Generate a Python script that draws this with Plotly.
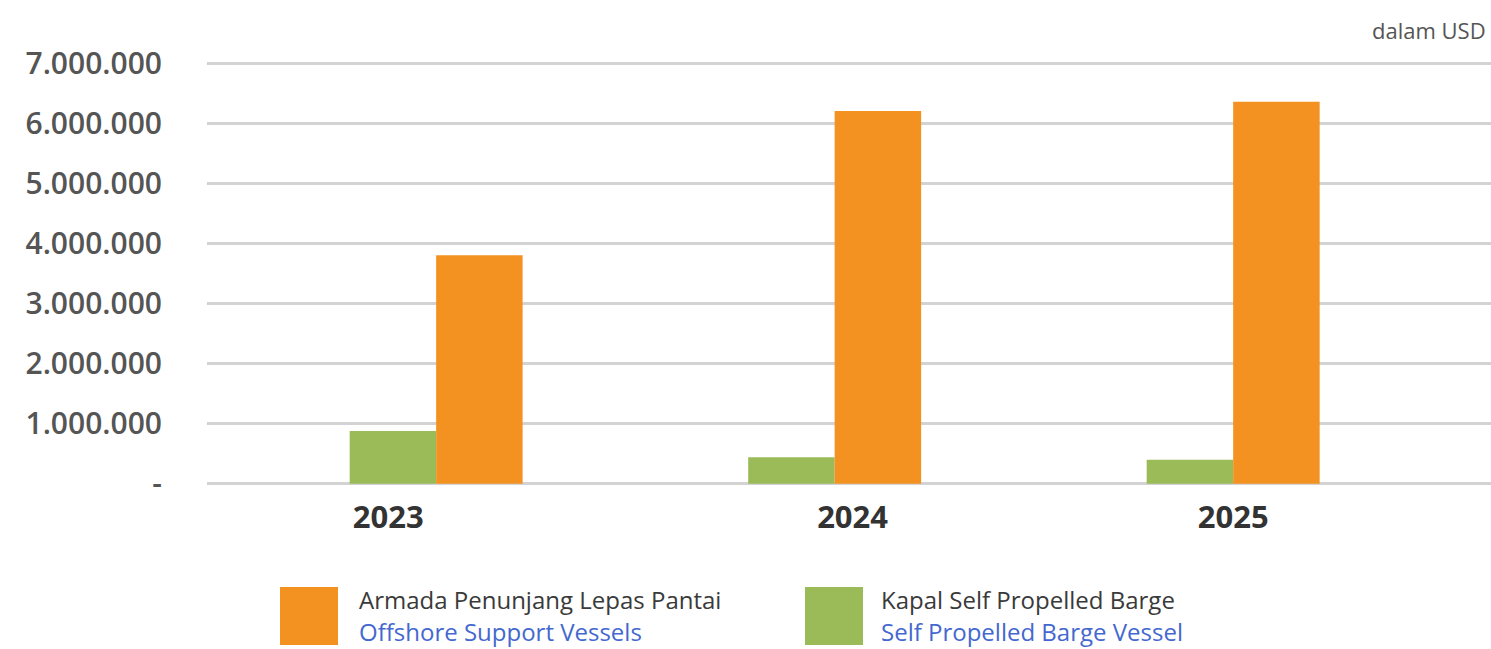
import plotly.graph_objects as go

# ---- data ----
years = ["2023", "2024", "2025"]
offshore_support_vessels = [3805000, 6205000, 6360000]
self_propelled_barge = [880000, 440000, 400000]
y_tick_values = [0, 1000000, 2000000, 3000000, 4000000, 5000000, 6000000, 7000000]
y_tick_labels = ["-", "1.000.000", "2.000.000", "3.000.000", "4.000.000",
                 "5.000.000", "6.000.000", "7.000.000"]

# ---- style ----
ORANGE = "#F39221"
GREEN = "#9BBB59"
GRID = "#D3D3D3"
TEXT = "#555555"
BLUE = "#4468D0"
W, H = 1491, 649
L, R, T, B = 207, 0, 62, 164
year_label_offsets = [-0.12, 0.045, 0.0]

x_idx = list(range(len(years)))

fig = go.Figure()
fig.add_trace(go.Bar(x=x_idx, y=self_propelled_barge, marker_color=GREEN,
                     marker_line_width=0, name="Self Propelled Barge Vessel",
                     showlegend=False))
fig.add_trace(go.Bar(x=x_idx, y=offshore_support_vessels, marker_color=ORANGE,
                     marker_line_width=0, name="Offshore Support Vessels",
                     showlegend=False))

pw, ph = W - L - R, H - T - B


def px_x(px):
    return (px - L) / pw


def px_y(py):
    return (H - B - py) / ph


shapes = []
annotations = []
legend_items = [
    (ORANGE, "Armada Penunjang Lepas Pantai", "Offshore Support Vessels", 280, 357),
    (GREEN, "Kapal Self Propelled Barge", "Self Propelled Barge Vessel", 805, 879),
]
for color, line1, line2, sx, tx in legend_items:
    shapes.append(dict(type="rect", xref="paper", yref="paper",
                       x0=px_x(sx), x1=px_x(sx + 58), y0=px_y(587), y1=px_y(645),
                       fillcolor=color, line_width=0))
    annotations.append(dict(xref="paper", yref="paper", x=px_x(tx), y=px_y(599),
                            text=line1, showarrow=False, xanchor="left", yanchor="middle",
                            font=dict(family="Open Sans", size=24, color="#3A3A3A")))
    annotations.append(dict(xref="paper", yref="paper", x=px_x(tx), y=px_y(631),
                            text=line2, showarrow=False, xanchor="left", yanchor="middle",
                            font=dict(family="Open Sans", size=24, color=BLUE)))

annotations.append(dict(xref="paper", yref="paper", x=px_x(1488), y=px_y(30),
                        text="dalam USD", showarrow=False, xanchor="right", yanchor="middle",
                        font=dict(family="Open Sans", size=22, color=TEXT)))

fig.update_layout(
    width=W, height=H,
    margin=dict(l=L, r=R, t=T, b=B, pad=0),
    plot_bgcolor="white", paper_bgcolor="white",
    barmode="group", bargap=0.566, bargroupgap=0,
    showlegend=False,
    shapes=shapes, annotations=annotations,
    xaxis=dict(range=[-0.575, 2.647], tickvals=[i + o for i, o in zip(x_idx, year_label_offsets)],
               ticktext=years, showgrid=False, zeroline=False, showline=False,
               ticks="", ticklabelstandoff=11,
               tickfont=dict(family="Open Sans", size=31, color="#333333", weight="bold")),
    yaxis=dict(range=[-0.02e6, 7.02e6], tickvals=y_tick_values, ticktext=y_tick_labels,
               showgrid=True, gridcolor=GRID, gridwidth=3, zeroline=False,
               showline=False, ticks="", ticklabelstandoff=44,
               tickfont=dict(family="Open Sans", size=30, color=TEXT, weight=600)),
)

fig.write_html("out.html", config={"displayModeBar": False},
               post_script="document.body.style.margin='0';document.body.style.padding='0';")
